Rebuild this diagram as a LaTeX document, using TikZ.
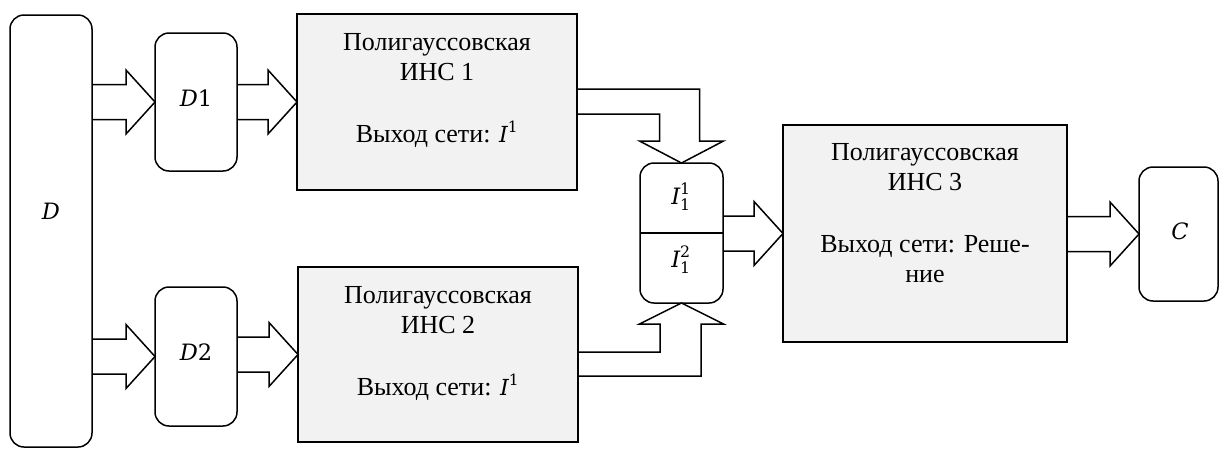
\documentclass[tikz,border=0pt]{standalone}
\usepackage{amsmath}
\usepackage{fontspec}
\setmainfont{Liberation Serif}
\newfontfamily\symfont[Scale=0.85]{DejaVu Serif}
\usetikzlibrary{calc}
\definecolor{boxgray}{HTML}{F2F2F2}

% italic symbol letter and upright index in the symbol font
\newcommand\sv[1]{\text{\symfont\itshape #1}}
\newcommand\sn[1]{\text{\symfont #1}}

% horizontal block arrow: #1 source point, #2 tip point
\newcommand\harrow[2]{%
  \draw[blockarrow] let \p1=#1, \p2=#2 in
    (\x1,\y2+17.5pt) -- (\x2-29pt,\y2+17.5pt) -- (\x2-29pt,\y2+32pt) --
    (\x2,\y2) -- (\x2-29pt,\y2-32pt) -- (\x2-29pt,\y2-17.5pt) -- (\x1,\y2-17.5pt);}

\begin{document}
\begin{tikzpicture}[x=1pt,y=-1pt,line width=1.5pt,
  every node/.style={inner sep=0pt,outer sep=0pt},
  roundbox/.style={draw,rounded corners=14pt,fill=white},
  netbox/.style={draw,fill=boxgray},
  boxtext/.style={font=\fontsize{26}{30}\selectfont,align=center,anchor=base},
  mathlbl/.style={font=\fontsize{26.5}{30}\selectfont},
  blockarrow/.style={draw,line join=miter}]

\useasboundingbox (0,0) rectangle (1219,448);

% data blocks
\node[roundbox,minimum width=82pt,minimum height=432pt] (D) at (51,231) {};
\node[roundbox,minimum width=82pt,minimum height=138pt] (D1) at (196,102) {};
\node[roundbox,minimum width=82pt,minimum height=139pt] (D2) at (196,356.5) {};
\node[mathlbl] (tD) at (51,211) {$\sv{D}$};
\node[mathlbl] (tD1) at (196,98) {$\sv{D}\sn{1}$};
\node[mathlbl] (tD2) at (196,352) {$\sv{D}\sn{2}$};

% networks; each text node sits on the baseline of its last line
\node[netbox,minimum width=280pt,minimum height=176pt] (N1) at (437,102) {};
\node[netbox,minimum width=280pt,minimum height=175pt] (N2) at (438,354.5) {};
\node[netbox,minimum width=284pt,minimum height=217pt] (N3) at (925,233.5) {};
\node[boxtext] (t1) at ($(N1.north)+(0,128)$) {Полигауссовская\\ИНС 1\\[32pt]Выход сети: $\sv{I}^{\sn{1}}$};
\node[boxtext] (t2) at ($(N2.north)+(0,128)$) {Полигауссовская\\ИНС 2\\[32pt]Выход сети: $\sv{I}^{\sn{1}}$};
\node[boxtext] (t3) at ($(N3.north)+(0,157)$) {Полигауссовская\\ИНС 3\\[32pt]Выход сети: Реше-\\ние};

% combined outputs
\node[roundbox,minimum width=83pt,minimum height=140pt] (M) at (681.5,233) {};
\draw (M.west) -- (M.east);
\node[mathlbl] (tM1) at (681,197) {$\sv{I}_{\sn{1}}^{\sn{1}}$};
\node[mathlbl] (tM2) at (681,260) {$\sv{I}_{\sn{1}}^{\sn{2}}$};

% result
\node[roundbox,minimum width=79pt,minimum height=134pt] (C) at (1178.5,234) {};
\node[mathlbl] (tC) at (1180,231) {$\sv{C}$};

% straight block arrows
\harrow{(D.east)}{(D1.west)}
\harrow{(D1.east)}{(N1.west)}
\harrow{(D.east)}{(D2.west)}
\harrow{(D2.east)}{(N2.west)}
\harrow{(M.east)}{(N3.west)}
\harrow{(N3.east)}{(C.west)}

% bent block arrow from network 1 down into M
\draw[blockarrow] let \p1=(N1.east), \p2=(M.north) in
  (\x1,\y1+13pt) -- (\x2+18pt,\y1+13pt) -- (\x2+18pt,\y2+22pt) --
  (\x2+42pt,\y2+22pt) -- (\x2,\y2) -- (\x2-42pt,\y2+22pt) --
  (\x2-22pt,\y2+22pt) -- (\x2-22pt,\y1-12pt) -- (\x1,\y1-12pt);

% bent block arrow from network 2 up into M
\draw[blockarrow] let \p1=(N2.east), \p2=(M.south) in
  (\x1,\y1+2.5pt) -- (\x2-21.5pt,\y1+2.5pt) -- (\x2-21.5pt,\y2-21pt) --
  (\x2-42pt,\y2-21pt) -- (\x2,\y2) -- (\x2+42pt,\y2-21pt) --
  (\x2+19.5pt,\y2-21pt) -- (\x2+19.5pt,\y1-21.5pt) -- (\x1,\y1-21.5pt);
\end{tikzpicture}
\end{document}
